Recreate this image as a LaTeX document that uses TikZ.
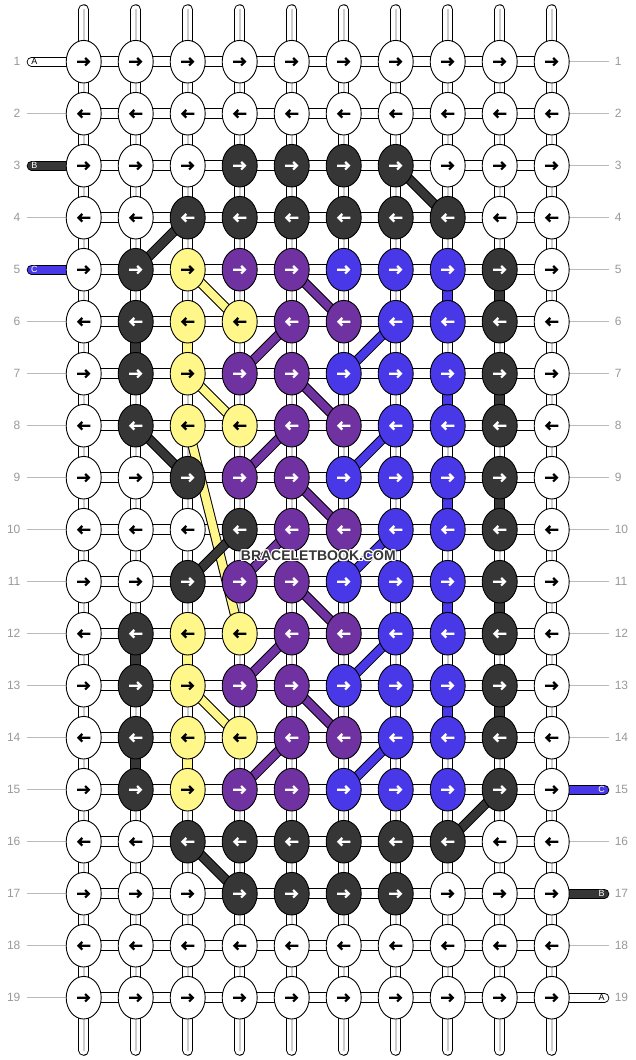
\documentclass[tikz,border=0pt]{standalone}
\usepackage{fontspec}
\setmainfont{Liberation Sans}
\usetikzlibrary{shapes.geometric}
\definecolor{cdark}{HTML}{363636}
\definecolor{cyel}{HTML}{FFF78A}
\definecolor{cpur}{HTML}{7032A0}
\definecolor{cblu}{HTML}{4838E8}
\definecolor{stripe}{HTML}{CDCDCD}
\definecolor{guide}{HTML}{BBBBBB}
\definecolor{lab}{HTML}{999999}
\colorlet{kw}{white}\colorlet{aw}{black}
\colorlet{kd}{cdark}\colorlet{ad}{white}
\colorlet{ky}{cyel}\colorlet{ay}{black}
\colorlet{kp}{cpur}\colorlet{ap}{white}
\colorlet{kb}{cblu}\colorlet{ab}{white}
\newcommand\wmcopy[3]{\makebox[0pt]{\raisebox{#2}{\hspace*{#1}#3}}}
\newcommand\wmword{BRACELETBOOK.COM}
\def\rows{%
{w,w,w,w,w,w,w,w,w,w},%
{w,w,w,w,w,w,w,w,w,w},%
{w,w,w,d,d,d,d,w,w,w},%
{w,w,d,d,d,d,d,d,w,w},%
{w,d,y,p,p,b,b,b,d,w},%
{w,d,y,y,p,p,b,b,d,w},%
{w,d,y,p,p,b,b,b,d,w},%
{w,d,y,y,p,p,b,b,d,w},%
{w,w,d,p,p,b,b,b,d,w},%
{w,w,w,d,p,p,b,b,d,w},%
{w,w,d,p,p,b,b,b,d,w},%
{w,d,y,y,p,p,b,b,d,w},%
{w,d,y,p,p,b,b,b,d,w},%
{w,d,y,y,p,p,b,b,d,w},%
{w,d,y,p,p,b,b,b,d,w},%
{w,w,d,d,d,d,d,d,w,w},%
{w,w,w,d,d,d,d,w,w,w},%
{w,w,w,w,w,w,w,w,w,w},%
{w,w,w,w,w,w,w,w,w,w}}
\begin{document}
\begin{tikzpicture}[x=1pt,y=-1pt,
  knot/.style={ellipse, draw=black, line width=0.9pt, minimum width=35pt, minimum height=42.6pt, inner sep=0pt},
  vbar/.style={draw=white, line width=8.7pt, preaction={draw=black, line width=10.7pt}, postaction={draw=stripe, line width=2.2pt}},
  cbar/.style={draw=#1, line width=8.7pt, preaction={draw=black, line width=10.7pt}},
  hbar/.style={draw=white, line width=9pt, preaction={draw=black, line width=11pt}},
  diag/.style={draw=#1, line width=8pt, preaction={draw=black, line width=10pt}},
  endstr/.style={draw=#1, line width=7.8pt, line cap=round, preaction={draw=black, line width=9.6pt, line cap=round}},
  tipstr/.style={draw=white, line width=8.7pt, line cap=round, preaction={draw=black, line width=10.7pt, line cap=round}, postaction={draw=stripe, line width=2.2pt, line cap=round}},
  arr/.style={line width=2.2pt, line join=miter, line cap=butt},
  guideline/.style={draw=guide, line width=0.9pt},
  rowlab/.style={text=lab, font=\fontsize{12}{12}\selectfont, inner sep=0pt},
  strlab/.style={font=\fontsize{9}{9}\selectfont, inner sep=0pt},
  wmark/.style={font=\fontsize{14}{14}\selectfont\bfseries, inner sep=0pt},
]
\fill[white] (0,0) rectangle (636,1060);
\useasboundingbox (0,0) rectangle (636,1060);
% positions
\foreach \j in {1,...,19}{
  \foreach \i in {1,...,10}{
    \pgfmathsetmacro\x{83.7+52*(\i-1)}
    \pgfmathsetmacro\y{61.7+52*(\j-1)}
    \coordinate (c-\j-\i) at (\x,\y);
  }
}
% top and bottom string ends
\foreach \i in {1,...,10}{
  \pgfmathsetmacro\x{83.7+52*(\i-1)}
  \coordinate (t-\i) at (\x,9.6);
  \coordinate (u-\i) at (\x,1050.4);
  \draw[tipstr] (t-\i) -- (c-1-\i);
  \draw[tipstr] (u-\i) -- (c-19-\i);
}
% guide lines and labels
\foreach \j in {1,...,19}{
  \pgfmathsetmacro\y{61.7+52*(\j-1)}
  \coordinate (gl-\j) at (26.7,\y);
  \coordinate (gr-\j) at (609.3,\y);
  \node[rowlab, anchor=east] (ll-\j) at (20.6,\y) {\j};
  \node[rowlab, anchor=west] (lr-\j) at (614.6,\y) {\j};
}
\foreach \j in {2,4,6,7,8,9,10,11,12,13,14,15,16,17,18,19}{
  \draw[guideline] (gl-\j) -- (c-\j-1);
}
\foreach \j in {1,2,3,4,5,6,7,8,9,10,11,12,13,14,16,18}{
  \draw[guideline] (c-\j-10) -- (gr-\j);
}
% vertical bars
\foreach \j in {1,...,18}{
  \foreach \i in {1,...,10}{
    \pgfmathtruncatemacro\jj{\j+1}
    \draw[vbar] (c-\j-\i) -- (c-\jj-\i);
  }
}
\foreach \i/\a/\col in {2/6/cdark,2/12/cdark,2/14/cdark,3/6/cyel,3/12/cyel,3/14/cyel,
  8/5/cblu,8/7/cblu,8/9/cblu,8/11/cblu,8/13/cblu,
  9/5/cdark,9/7/cdark,9/9/cdark,9/11/cdark,9/13/cdark}{
  \pgfmathtruncatemacro\b{\a+1}
  \draw[cbar=\col] (c-\a-\i) -- (c-\b-\i);
}
% horizontal bars
\foreach \j in {1,...,19}{
  \foreach \i in {1,...,9}{
    \pgfmathtruncatemacro\ii{\i+1}
    \draw[hbar] (c-\j-\i) -- (c-\j-\ii);
  }
}
% end strings
\coordinate (sA) at (31.5,61.7);
\coordinate (sB) at (31.5,165.7);
\coordinate (sC) at (31.5,269.7);
\coordinate (eC) at (604.5,789.7);
\coordinate (eB) at (604.5,893.7);
\coordinate (eA) at (604.5,997.7);
\draw[endstr=white] (sA) -- (c-1-1);
\draw[endstr=cdark] (sB) -- (c-3-1);
\draw[endstr=cblu] (sC) -- (c-5-1);
\draw[endstr=cblu] (c-15-10) -- (eC);
\draw[endstr=cdark] (c-17-10) -- (eB);
\draw[endstr=white] (c-19-10) -- (eA);
\node[strlab, text=black] (lA) at (34.4,61.7) {A};
\node[strlab, text=white] (lB) at (34.4,165.7) {B};
\node[strlab, text=white] (lC) at (34.4,269.7) {C};
\node[strlab, text=white] (rC) at (601.7,789.7) {C};
\node[strlab, text=white] (rB) at (601.7,893.7) {B};
\node[strlab, text=black] (rA) at (601.7,997.7) {A};
% diagonal strings
\foreach \a/\b/\c/\d/\col in {5/3/6/4/cyel,7/3/8/4/cyel,8/3/12/4/cyel,13/3/14/4/cyel,
  5/5/6/6/cpur,6/5/7/4/cpur,7/5/8/6/cpur,8/5/9/4/cpur,9/5/10/6/cpur,10/5/11/4/cpur,
  11/5/12/6/cpur,12/5/13/4/cpur,13/5/14/6/cpur,14/5/15/4/cpur,
  6/7/7/6/cblu,8/7/9/6/cblu,10/7/11/6/cblu,12/7/13/6/cblu,14/7/15/6/cblu,
  3/7/4/8/cdark,4/3/5/2/cdark,8/2/9/3/cdark,10/4/11/3/cdark,15/9/16/8/cdark,16/3/17/4/cdark}{
  \draw[diag=\col] (c-\a-\b) -- (c-\c-\d);
}
% knots
\foreach \r [count=\j] in \rows {
  \foreach \c [count=\i] in \r {
    \node[knot, fill=k\c] (k-\j-\i) at (c-\j-\i) {};
    \ifodd\j \def\s{1}\else\def\s{-1}\fi
    \draw[arr, draw=a\c, shift={(c-\j-\i)}, xscale=\s] (-6.7,0) -- (5,0) (1.4,-3.8) -- (5.2,0) -- (1.4,3.8);
  }
}
% watermark (white halo and dark text in one node)
\node[wmark] (wm) at (318.3,555.5) {%
  \color{white}%
  \wmcopy{-2.4pt}{0pt}{\wmword}\wmcopy{2.4pt}{0pt}{\wmword}%
  \wmcopy{0pt}{1.2pt}{\wmword}\wmcopy{0pt}{-1.2pt}{\wmword}%
  \wmcopy{-1.8pt}{0.9pt}{\wmword}\wmcopy{1.8pt}{0.9pt}{\wmword}%
  \wmcopy{-1.8pt}{-0.9pt}{\wmword}\wmcopy{1.8pt}{-0.9pt}{\wmword}%
  \color{cdark}\wmcopy{0pt}{0pt}{\wmword}};
\end{tikzpicture}
\end{document}
